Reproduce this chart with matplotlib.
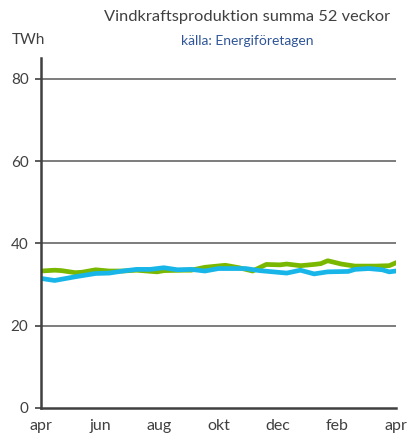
import numpy as np
import matplotlib.pyplot as plt

plt.rcParams['font.family'] = ['Lato', 'DejaVu Sans']

# veckor (0 = april) och TWh, summa 52 veckor
green_weeks = [0, 2, 3, 5, 6, 8, 10, 12, 14, 17, 18, 21, 22, 24, 27, 29, 31, 33,
               35, 36, 38, 40, 41, 42, 44, 46, 49, 51, 52]
green_vals = [33.3, 33.5, 33.4, 32.9, 33.0, 33.6, 33.3, 33.3, 33.5, 33.1, 33.4, 33.5,
              33.5, 34.2, 34.7, 34.1, 33.3, 34.9, 34.8, 35.0, 34.6, 34.9, 35.1, 35.8,
              35.0, 34.5, 34.5, 34.6, 35.3]

blue_weeks = [0, 2, 5, 8, 10, 12, 14, 16, 18, 20, 22, 24, 26, 28, 30, 32, 34, 36,
              38, 40, 42, 45, 46, 48, 50, 51, 52]
blue_vals = [31.5, 31.0, 31.9, 32.7, 32.8, 33.3, 33.7, 33.7, 34.1, 33.6, 33.7, 33.3,
             33.9, 33.9, 33.9, 33.4, 33.1, 32.8, 33.5, 32.6, 33.1, 33.2, 33.7, 33.9,
             33.6, 33.1, 33.3]

month_labels = ['apr', 'jun', 'aug', 'okt', 'dec', 'feb', 'apr']
y_ticks = [0, 20, 40, 60, 80]

fig = plt.figure(figsize=(4.08, 4.37), dpi=100)
ax = fig.add_axes([0.1005, 0.0664, 0.870, 0.800])

ax.plot(green_weeks, green_vals, color='#7ab800', lw=3.4, solid_joinstyle='round')
ax.plot(blue_weeks, blue_vals, color='#18b6e8', lw=3.4, solid_joinstyle='round')

ax.set_xlim(0, 52)
ax.set_ylim(0, 85)
ax.set_yticks(y_ticks)
ax.set_xticks(np.linspace(0, 52, 7))
ax.set_xticklabels(month_labels)

for y in y_ticks[1:]:
    ax.axhline(y, color='#595959', lw=1.1, zorder=0)

for s in ['top', 'right']:
    ax.spines[s].set_visible(False)
ax.spines['left'].set_color('#404040')
ax.spines['left'].set_linewidth(1.8)
ax.spines['bottom'].set_color('#404040')
ax.spines['bottom'].set_linewidth(1.8)

ax.tick_params(axis='y', length=4, width=1.2, color='#404040', pad=5,
               labelsize=11, labelcolor='#404040')
ax.tick_params(axis='x', length=0, pad=8, labelsize=11.5, labelcolor='#404040')

fig.text(0.605, 0.962, 'Vindkraftsproduktion summa 52 veckor', ha='center', va='center',
         fontsize=11.8, color='#404040')
fig.text(0.605, 0.906, 'källa: Energiföretagen', ha='center', va='center',
         fontsize=10, color='#2f5597')
fig.text(0.028, 0.908, 'TWh', ha='left', va='center', fontsize=11, color='#404040')

fig.savefig('out.png', dpi=100)
